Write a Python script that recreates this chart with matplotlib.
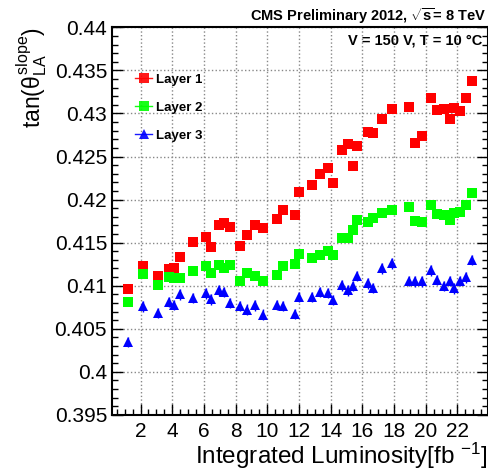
import matplotlib
matplotlib.use("Agg")
import matplotlib.pyplot as plt
from matplotlib.lines import Line2D
from matplotlib.ticker import MultipleLocator

plt.rcParams['font.family'] = ['Liberation Sans', 'DejaVu Sans']
plt.rcParams['mathtext.fontset'] = 'custom'
plt.rcParams['mathtext.rm'] = 'Liberation Sans'
plt.rcParams['mathtext.it'] = 'Liberation Sans'
plt.rcParams['mathtext.bf'] = 'Liberation Sans:bold'

# integrated luminosity [fb^-1]
lumi = [1.22, 2.16, 3.11, 3.80, 4.10, 4.50, 5.34, 6.14, 6.48, 6.94,
        7.27, 7.62, 8.31, 8.71, 9.21, 9.76, 10.60, 10.98, 11.72, 12.01,
        12.81, 13.33, 13.84, 14.15, 14.74, 15.08, 15.39, 15.69, 16.38, 16.70,
        17.27, 17.85, 18.93, 19.31, 19.75, 20.33, 20.74, 21.14, 21.50, 21.81,
        22.19, 22.57, 22.90]

layer1 = [0.40965, 0.41229, 0.41108, 0.41197, 0.41205, 0.41336, 0.41502, 0.41565, 0.41444, 0.41704,
          0.41723, 0.41684, 0.41456, 0.41588, 0.41704, 0.41665, 0.41774, 0.41885, 0.41821, 0.42094,
          0.42175, 0.42303, 0.42365, 0.42191, 0.42581, 0.42651, 0.42392, 0.42621, 0.42783, 0.42771,
          0.42937, 0.43050, 0.43077, 0.42659, 0.42740, 0.43181, 0.43038, 0.43050, 0.42937, 0.43068,
          0.43027, 0.43177, 0.43374]

layer2 = [0.40806, 0.41139, 0.41003, 0.41096, 0.41085, 0.41085, 0.41166, 0.41229, 0.41147, 0.41240,
          0.41209, 0.41236, 0.41050, 0.41147, 0.41116, 0.41058, 0.41124, 0.41224, 0.41255, 0.41368,
          0.41325, 0.41356, 0.41406, 0.41352, 0.41549, 0.41549, 0.41646, 0.41762, 0.41742, 0.41781,
          0.41843, 0.41882, 0.41913, 0.41754, 0.41742, 0.41943, 0.41832, 0.41820, 0.41766, 0.41839,
          0.41855, 0.41932, 0.42071]

layer3 = [0.40347, 0.40760, 0.40683, 0.40814, 0.40776, 0.40899, 0.40857, 0.40911, 0.40841, 0.40945,
          0.40930, 0.40803, 0.40768, 0.40722, 0.40771, 0.40664, 0.40776, 0.40768, 0.40675, 0.40869,
          0.40869, 0.40930, 0.40915, 0.40838, 0.41003, 0.40945, 0.40997, 0.41113, 0.41027, 0.40977,
          0.41201, 0.41259, 0.41058, 0.41050, 0.41050, 0.41178, 0.41070, 0.41000, 0.41055, 0.40969,
          0.41058, 0.41096, 0.41298]

labels = ['Layer 1', 'Layer 2', 'Layer 3']
colors = ['#ff0000', '#00ff00', '#0000ff']
markers = ['s', 's', '^']
errs = [0.0003, 0.0003, 0.0006]

fig = plt.figure(figsize=(4.89, 4.72), dpi=100)
ax = fig.add_axes([0.229, 0.121, 0.768, 0.821])

handles = []
for ys, c, m, e, lab in zip([layer1, layer2, layer3], colors, markers, errs, labels):
    ax.errorbar(lumi, ys, yerr=e, fmt=m, color=c, ms=6.8, mew=0, elinewidth=1, capsize=0, zorder=3)
    handles.append(Line2D([], [], color=c, marker=m, ms=6.8, mew=0, lw=1, alpha=0.9, label=lab))

ax.set_xlim(0.2, 23.9)
ax.set_ylim(0.395, 0.44)
ax.xaxis.set_major_locator(MultipleLocator(2))
ax.xaxis.set_minor_locator(MultipleLocator(0.5))
ax.yaxis.set_major_locator(MultipleLocator(0.005))
ax.yaxis.set_minor_locator(MultipleLocator(0.001))
ax.yaxis.set_major_formatter(plt.FuncFormatter(lambda v, p: ('%.3f' % v).rstrip('0')))
ax.tick_params(which='both', direction='in', right=True, top=False, width=1)
ax.tick_params(which='major', length=8, labelsize=15)
ax.tick_params(which='minor', length=4)
ax.tick_params(axis='x', pad=5)
ax.grid(True, which='major', linestyle=':', color='#888888', lw=1)
for s in ax.spines.values():
    s.set_linewidth(1.5)

ax.set_xlabel(r'Integrated Luminosity[fb $^{-1}$]', fontsize=17.5, loc='right', labelpad=0)
ax.set_ylabel(r'tan($\theta_{LA}^{slope}$)', fontsize=16.5, loc='top', labelpad=4)

ax.legend(handles=handles, loc='upper left', bbox_to_anchor=(0.03, 0.912), frameon=False,
          prop={'weight': 'bold', 'size': 9.5}, handlelength=1.3, handletextpad=0.3,
          labelspacing=1.2)

fig.text(0.995, 0.965, r'CMS Preliminary 2012, $\sqrt{\mathbf{s}}$= 8 TeV', ha='right', va='center',
         fontsize=10.5, weight='bold')
ax.text(0.985, 0.965, 'V = 150 V, T = 10 \u00b0C', transform=ax.transAxes, ha='right', va='center',
        fontsize=10.5, weight='bold')

fig.savefig('out.png', dpi=100)
